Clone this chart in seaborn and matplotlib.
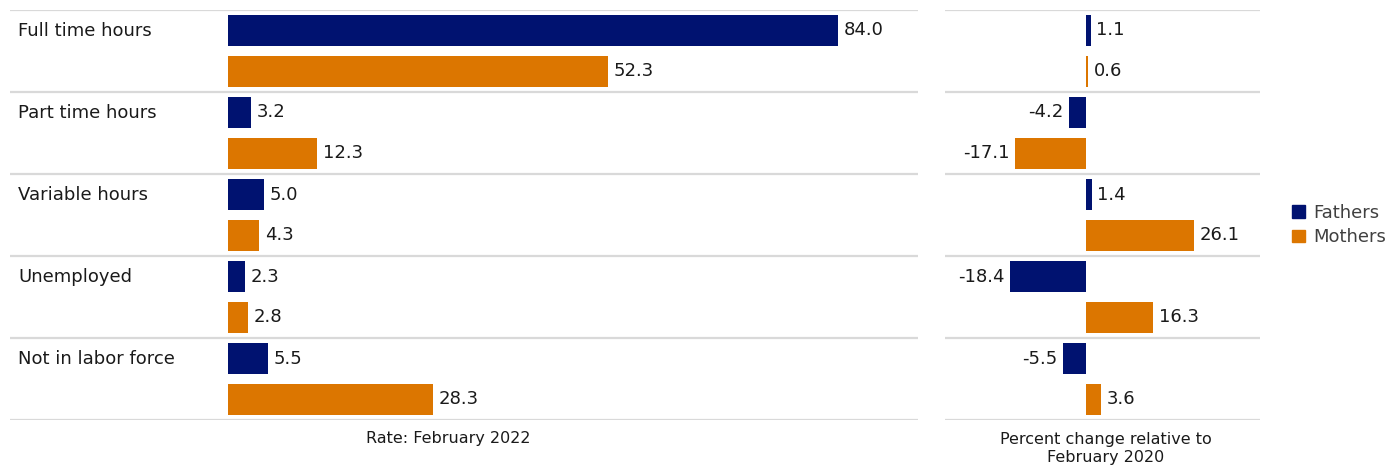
import matplotlib
matplotlib.use("Agg")
import matplotlib.pyplot as plt
import matplotlib.transforms as mtransforms
import seaborn as sns
import pandas as pd

categories = ["Full time hours", "Part time hours", "Variable hours",
              "Unemployed", "Not in labor force"]
groups = ["Fathers", "Mothers"]
rate_fathers = [84.0, 3.2, 5.0, 2.3, 5.5]
rate_mothers = [52.3, 12.3, 4.3, 2.8, 28.3]
change_fathers = [1.1, -4.2, 1.4, -18.4, -5.5]
change_mothers = [0.6, -17.1, 26.1, 16.3, 3.6]

NAVY = "#001270"
ORANGE = "#DC7600"
GRID = "#D9D9D9"
TEXT = "#1a1a1a"
palette = {"Fathers": NAVY, "Mothers": ORANGE}

rate_df = pd.DataFrame({
    "category": categories * 2,
    "group": ["Fathers"] * 5 + ["Mothers"] * 5,
    "value": rate_fathers + rate_mothers,
})
change_df = pd.DataFrame({
    "category": categories * 2,
    "group": ["Fathers"] * 5 + ["Mothers"] * 5,
    "value": change_fathers + change_mothers,
})

sns.set_theme(style="white")
plt.rcParams["font.family"] = ["DejaVu Sans"]

W, H = 1389, 470
fig = plt.figure(figsize=(W / 100, H / 100), dpi=100)

bottom = 1 - 420 / H
height = 410 / H
ax1 = fig.add_axes([10 / W, bottom, 908 / W, height])
ax2 = fig.add_axes([945 / W, bottom, 315 / W, height])

for ax, df, xlim in [(ax1, rate_df, (-30, 95)), (ax2, change_df, (-34.1, 42.1))]:
    sns.barplot(data=df, y="category", x="value", hue="group", hue_order=groups,
                order=categories, palette=palette, orient="h", width=1.0,
                gap=0.24, saturation=1, errorbar=None, legend=False,
                linewidth=0, ax=ax)
    ax.set_xlim(*xlim)
    ax.set_ylim(4.5, -0.5)
    for y in [-0.5, 0.5, 1.5, 2.5, 3.5, 4.5]:
        ax.axhline(y, color=GRID, lw=1.6, zorder=0)
    for c in ax.containers:
        ax.bar_label(c, fmt="%.1f", padding=4, fontsize=13, color=TEXT)
    ax.set_xticks([])
    ax.set_yticks([])
    ax.set_xlabel("")
    ax.set_ylabel("")
    for s in ax.spines.values():
        s.set_visible(False)

# category names sit at the left edge, level with the fathers bar
trans = mtransforms.blended_transform_factory(ax1.transAxes, ax1.transData)
for i, cat in enumerate(categories):
    ax1.text(8 / 908, i - 0.24, cat, transform=trans, ha="left", va="center",
             fontsize=13, color=TEXT)

fig.text(448 / W, 1 - 438 / H, "Rate: February 2022", ha="center", va="center",
         fontsize=11.5, color=TEXT)
fig.text(1106 / W, 1 - 448.5 / H, "Percent change relative to\nFebruary 2020",
         ha="center", va="center", fontsize=11.5, color=TEXT,
         linespacing=1.3)

handles = [plt.Rectangle((0, 0), 1, 1, color=palette[g]) for g in groups]
fig.legend(handles, groups, loc="center left",
           bbox_to_anchor=(1292 / W, 1 - 225 / H), frameon=False,
           fontsize=13, handlelength=0.7, handleheight=0.7,
           handletextpad=0.45, labelspacing=0.35, labelcolor="#404040",
           borderpad=0, borderaxespad=0)

fig.savefig("out.png", dpi=100)
